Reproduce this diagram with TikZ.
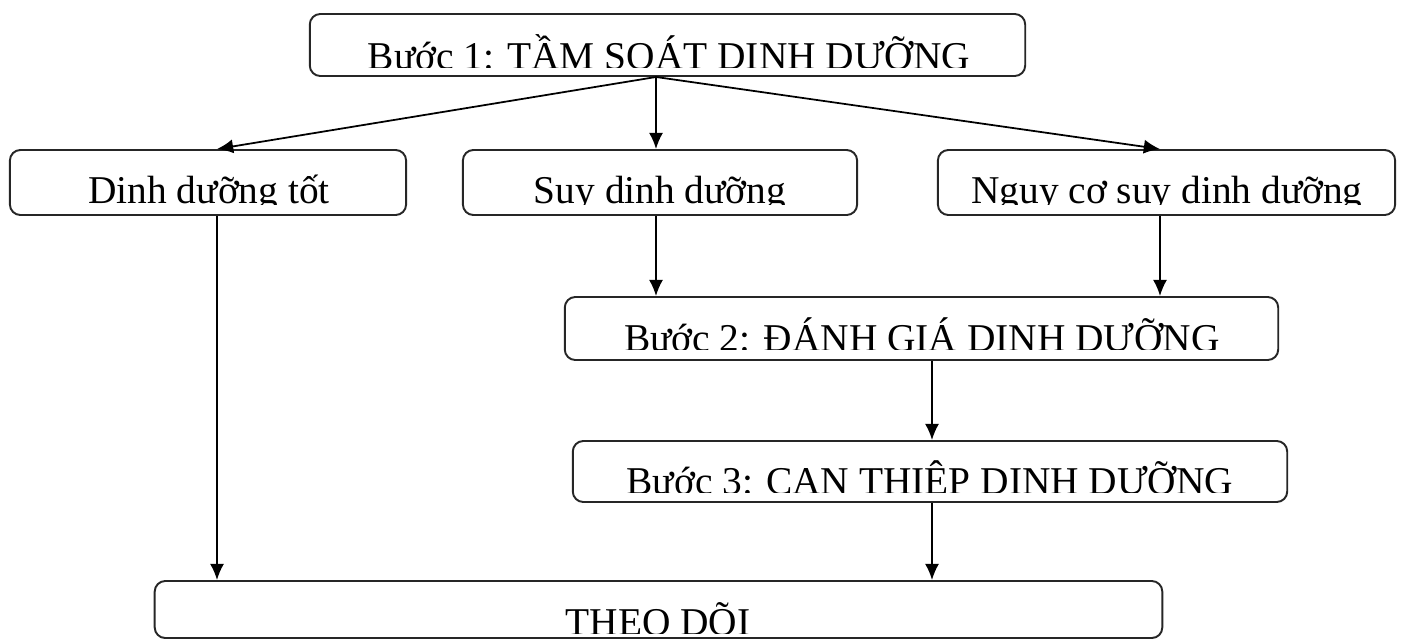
\documentclass[tikz,border=0pt]{standalone}
\usepackage{fontspec}
\setmainfont{Liberation Serif}
\usetikzlibrary{arrows.meta}
\begin{document}
\begin{tikzpicture}[x=0.01cm,y=-0.01cm,
  box/.style={draw=black!85,line width=0.55pt,rounded corners=3pt,inner sep=0pt},
  txt/.style={inner sep=0pt,anchor=base,font=\fontsize{11.2}{13}\selectfont},
  arr/.style={draw=black,line width=0.5pt,-{Latex[length=4.6pt,width=4pt]}}]
\useasboundingbox (0,0) rectangle (1403,639);
% boxes
\node[box,minimum width=7.15cm,minimum height=0.62cm] (B1) at (667.5,45) {};
\node[box,minimum width=3.96cm,minimum height=0.65cm] (D) at (208,182.5) {};
\node[box,minimum width=3.94cm,minimum height=0.65cm] (S) at (660,182.5) {};
\node[box,minimum width=4.57cm,minimum height=0.65cm] (N) at (1166.5,182.5) {};
\node[box,minimum width=7.13cm,minimum height=0.63cm] (B2) at (921.5,328.5) {};
\node[box,minimum width=7.14cm,minimum height=0.61cm] (B3) at (930,471.5) {};
\node[box,minimum width=10.07cm,minimum height=0.57cm] (T) at (658.5,609.5) {};
% texts (clipped at the bottom, as printed)
\begin{scope}
\clip (310,14) rectangle (1025,67);
\node[txt] (t1) at (669,69) {Bước 1: TẦM SOÁT DINH DƯỠNG};
\end{scope}
\begin{scope}
\clip (0,150) rectangle (1403,204);
\node[txt] (t2) at (209,203) {Dinh dưỡng tốt};
\node[txt] (t3) at (660,203) {Suy dinh dưỡng};
\node[txt] (t4) at (1167,203) {Nguy cơ suy dinh dưỡng};
\end{scope}
\begin{scope}
\clip (565,297) rectangle (1278,349);
\node[txt] (t5) at (922,351) {Bước 2: ĐÁNH GIÁ DINH DƯỠNG};
\end{scope}
\begin{scope}
\clip (573,441) rectangle (1287,492);
\node[txt] (t6) at (930,494) {Bước 3: CAN THIỆP DINH DƯỠNG};
\end{scope}
\begin{scope}
\clip (155,581) rectangle (1162,633);
\node[txt] (t7) at (658,635) {THEO DÕI};
\end{scope}
% connectors
\coordinate (o) at (B1.south -| S.north);
\draw[arr] ([xshift=-0.04cm]o) -- ([xshift=0.09cm]D.north);
\draw[arr] ([xshift=-0.04cm]o) -- ([xshift=-0.04cm]S.north);
\draw[arr] ([xshift=-0.04cm]o) -- ([xshift=-0.065cm]N.north);
\draw[arr] ([xshift=-0.04cm]S.south) -- ([xshift=-0.04cm]S.south |- B2.north);
\draw[arr] ([xshift=-0.065cm]N.south) -- ([xshift=-0.065cm]N.south |- B2.north);
\draw[arr] ([xshift=0.02cm]B3.north |- B2.south) -- ([xshift=0.02cm]B3.north);
\draw[arr] ([xshift=0.02cm]B3.south) -- ([xshift=0.02cm]B3.south |- T.north);
\draw[arr] ([xshift=0.09cm]D.south) -- ([xshift=0.09cm]D.south |- T.north);
\end{tikzpicture}
\end{document}
